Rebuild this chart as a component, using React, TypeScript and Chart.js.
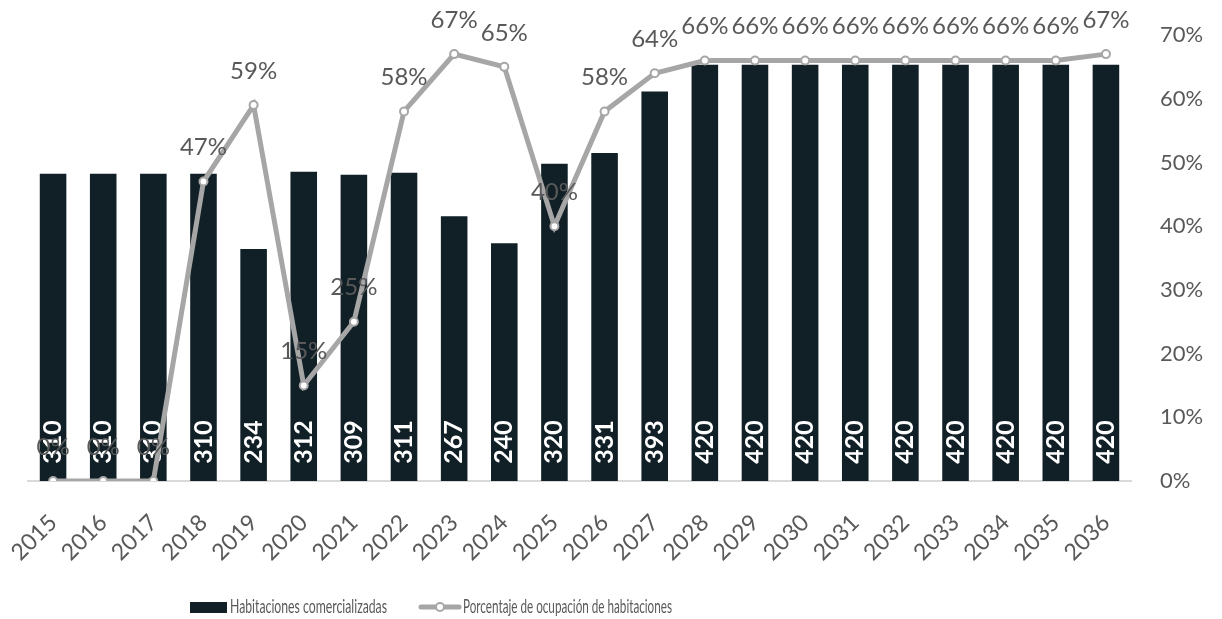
import React, { useEffect, useRef } from "react";
import { Chart, registerables } from "chart.js";

Chart.register(...registerables);

const years = ["2015","2016","2017","2018","2019","2020","2021","2022","2023","2024","2025","2026","2027","2028","2029","2030","2031","2032","2033","2034","2035","2036"];
const rooms = [310,310,310,310,234,312,309,311,267,240,320,331,393,420,420,420,420,420,420,420,420,420];
const occupancy = [0,0,0,47,59,15,25,58,67,65,40,58,64,66,66,66,66,66,66,66,66,67];
const roomsLabel = "Habitaciones comercializadas";
const occupancyLabel = "Porcentaje de ocupación de habitaciones";

const BAR = "#111f26";
const LINE = "#a6a6a6";
const TEXT = "#595959";
const FONT = "Lato";

const labelsPlugin = {
  id: "customLabels",
  afterDatasetDraw(chart: any, args: any) {
    if (args.index !== 1) return;
    const ctx = chart.ctx;
    const meta = chart.getDatasetMeta(1);
    ctx.save();
    ctx.fillStyle = "#ffffff";
    ctx.font = `bold 25px ${FONT}`;
    ctx.textAlign = "center";
    ctx.textBaseline = "middle";
    meta.data.forEach((el: any, i: number) => {
      ctx.save();
      ctx.translate(el.x, el.base - 39);
      ctx.rotate(-Math.PI / 2);
      ctx.fillText(String(rooms[i]), 0, 0);
      ctx.restore();
    });
    ctx.restore();
  },
  afterDatasetsDraw(chart: any) {
    const ctx = chart.ctx;
    const meta = chart.getDatasetMeta(0);
    ctx.save();
    ctx.fillStyle = TEXT;
    ctx.font = `24px ${FONT}`;
    ctx.textAlign = "center";
    ctx.textBaseline = "middle";
    meta.data.forEach((el: any, i: number) => {
      ctx.fillText(occupancy[i] + "%", el.x, el.y - 34);
    });
    ctx.restore();
  },
  afterDraw(chart: any) {
    const ctx = chart.ctx;
    const y = 607;
    ctx.save();
    ctx.fillStyle = BAR;
    ctx.fillRect(190, 602, 37, 11);
    ctx.fillStyle = TEXT;
    ctx.font = `19px ${FONT}`;
    ctx.textAlign = "left";
    ctx.textBaseline = "middle";
    ctx.fillText(roomsLabel, 230, y, 157);
    ctx.strokeStyle = LINE;
    ctx.lineWidth = 5;
    ctx.lineCap = "round";
    ctx.beginPath();
    ctx.moveTo(421, y);
    ctx.lineTo(459, y);
    ctx.stroke();
    ctx.beginPath();
    ctx.arc(440, y, 4, 0, Math.PI * 2);
    ctx.fillStyle = "#ffffff";
    ctx.fill();
    ctx.lineWidth = 2;
    ctx.stroke();
    ctx.fillStyle = TEXT;
    ctx.fillText(occupancyLabel, 463, y, 209);
    ctx.restore();
  },
};

const zeroPad = (axis: any) => {
  axis.paddingLeft = 0;
  axis.paddingRight = 0;
  axis.paddingTop = 0;
  axis.paddingBottom = 0;
};

export default function App() {
  const ref = useRef<HTMLCanvasElement | null>(null);
  useEffect(() => {
    if (!ref.current) return;
    const chart = new Chart(ref.current, {
      type: "bar",
      data: {
        labels: years,
        datasets: [
          {
            type: "line",
            label: occupancyLabel,
            data: occupancy,
            yAxisID: "y1",
            borderColor: LINE,
            borderWidth: 5,
            pointRadius: 4,
            pointBorderWidth: 2,
            pointBackgroundColor: "#ffffff",
            pointBorderColor: LINE,
            tension: 0,
            order: 0,
          } as any,
          {
            type: "bar",
            label: roomsLabel,
            data: rooms,
            yAxisID: "y",
            backgroundColor: BAR,
            categoryPercentage: 1,
            barPercentage: 0.53,
            order: 1,
          },
        ],
      },
      options: {
        animation: false,
        responsive: true,
        maintainAspectRatio: false,
        layout: { padding: { left: 28, top: 35, right: 0, bottom: 0 } },
        plugins: { legend: { display: false }, tooltip: { enabled: false } },
        scales: {
          x: {
            grid: { display: false, drawTicks: false },
            border: { display: true, color: "#d9d9d9", width: 2 },
            ticks: {
              autoSkip: false,
              maxRotation: 45,
              minRotation: 45,
              padding: 28,
              color: TEXT,
              font: { family: FONT, size: 23 },
            },
            afterFit: (axis: any) => {
              axis.height = 138;
              zeroPad(axis);
            },
          },
          y: {
            display: false,
            min: 0,
            max: 450,
          },
          y1: {
            position: "right",
            min: 0,
            max: 70,
            grid: { display: false, drawTicks: false },
            border: { display: false },
            ticks: {
              stepSize: 10,
              padding: 29,
              color: TEXT,
              font: { family: FONT, size: 22 },
              callback: (v: any) => v + "%",
            },
            afterFit: (axis: any) => {
              axis.width = 91;
              zeroPad(axis);
            },
          },
        },
      },
      plugins: [labelsPlugin],
    });
    return () => chart.destroy();
  }, []);
  return (
    <div style={{ position: "fixed", left: 0, top: 0, width: 1222, height: 619, background: "#ffffff" }}>
      <canvas ref={ref} />
    </div>
  );
}
